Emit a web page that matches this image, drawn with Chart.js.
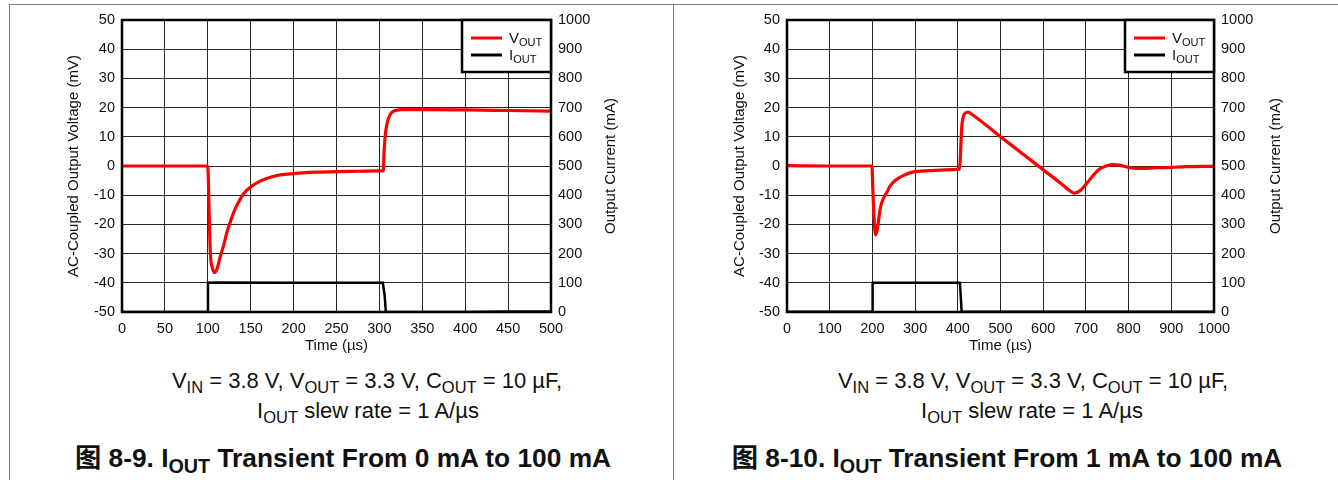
<!DOCTYPE html>
<html>
<head>
<meta charset="utf-8">
<script src="https://cdn.jsdelivr.net/npm/chart.js@4/dist/chart.umd.min.js"></script>
<style>
  html, body { margin: 0; padding: 0; background: #fff; }
  body { width: 1338px; height: 480px; position: relative; overflow: hidden;
         font-family: "Liberation Sans", "Noto Sans CJK SC", Arial, sans-serif; color: #111; }
  .panel { position: absolute; top: 4px; height: 520px; border-top: 1px solid #808080; }
  #pl { left: 9px; width: 663px; border-left: 1px solid #808080; border-right: 1px solid #808080; }
  #pr { left: 673px; width: 700px; }
  canvas { position: absolute; }
  .cap { position: absolute; white-space: nowrap; font-size: 22px; line-height: 26px; transform: translateX(-50%); }
  .ttl { position: absolute; white-space: nowrap; font-size: 26.3px; line-height: 30px; font-weight: bold; transform: translateX(-50%); }
  sub { font-size: 0.75em; vertical-align: -0.28em; line-height: 0; }
</style>
</head>
<body>
<div class="panel" id="pl"></div>
<div class="panel" id="pr"></div>
<canvas id="c1" width="662" height="355" style="left:10px;top:5px"></canvas>
<canvas id="c2" width="664" height="355" style="left:674px;top:5px"></canvas>

<div class="cap" style="left:367px;top:368px">V<sub>IN</sub> = 3.8 V, V<sub>OUT</sub> = 3.3 V, C<sub>OUT</sub> = 10 µF,</div>
<div class="cap" style="left:368px;top:398px">I<sub>OUT</sub> slew rate = 1 A/µs</div>
<div class="ttl" style="left:343px;top:443px">图 8-9. I<sub>OUT</sub> Transient From 0 mA to 100 mA</div>

<div class="cap" style="left:1033px;top:368px">V<sub>IN</sub> = 3.8 V, V<sub>OUT</sub> = 3.3 V, C<sub>OUT</sub> = 10 µF,</div>
<div class="cap" style="left:1032px;top:398px">I<sub>OUT</sub> slew rate = 1 A/µs</div>
<div class="ttl" style="left:1007px;top:443px">图 8-10. I<sub>OUT</sub> Transient From 1 mA to 100 mA</div>

<script>
// ---------- Figure 8-9 (0 mA -> 100 mA), time in µs ----------
const v1Time = [0, 50, 99.5, 100.5, 101.5, 103, 105, 108, 111, 114, 118.6, 122, 126.4, 130, 134, 142, 150, 161, 177, 200, 227, 250, 275, 300, 304.5, 305.5, 307, 310, 313, 316, 320, 325, 350, 400, 450, 500];
const v1Vout = [0, 0, 0, -3, -15, -30, -34.5, -36.5, -35, -31.5, -27, -23, -19, -16, -13.4, -9.4, -7.2, -5.2, -3.5, -2.6, -2.1, -1.9, -1.8, -1.7, -1.7, 5, 11, 15.8, 17.8, 18.7, 19.1, 19.3, 19.3, 19.2, 19.0, 18.8];
const i1Time = [0, 99.8, 100.2, 110, 200, 304, 306, 307.5, 400, 450, 500];
const i1Iout = [0, 0, 100, 101, 100.5, 100, 60, 0, 0, 2, 2];

// ---------- Figure 8-10 (1 mA -> 100 mA), time in µs ----------
const v2Time = [0, 100, 199, 201, 204, 207.5, 211, 215, 218, 226, 233.6, 240, 249, 262, 273, 296, 335, 370, 404, 406, 408, 410, 413, 418, 425, 432, 500, 550, 600, 640, 660, 672, 685, 700, 715, 731, 745, 762, 778, 800, 820, 840, 870, 900, 934, 1000];
const v2Vout = [0.1, 0, 0, -8, -18, -23.6, -22, -18, -14.8, -11, -9.1, -7.2, -5.5, -4.1, -3.2, -2.0, -1.6, -1.3, -1.1, 3, 10, 14.5, 17, 18.2, 18.4, 17.8, 10.0, 4.4, -1.3, -5.8, -8.2, -9.3, -8.6, -6.3, -3.6, -1.1, -0.1, 0.45, 0.3, -0.5, -0.8, -0.8, -0.6, -0.45, -0.2, -0.1];
const i2Time = [0, 199.5, 200.5, 300, 405, 407, 409, 500, 1000];
const i2Iout = [1, 1, 100, 100, 100, 50, 1, 1, 1];

// ---------- axis ticks ----------
const vTicks = { min: -50, max: 50, step: 10 };
const iTicks = { min: 0, max: 1000, step: 100 };
const x1Ticks = { min: 0, max: 500, step: 50 };
const x2Ticks = { min: 0, max: 1000, step: 100 };

const FONT = '"Liberation Sans", Arial, sans-serif';
const TXT = '#111';
const plain = v => String(v);

function pts(xs, ys) { return xs.map((x, k) => ({ x: x, y: ys[k] })); }

const chartDeco = {
  id: 'chartDeco',
  afterDraw(chart, args, opts) {
    const { ctx, chartArea: a } = chart;
    ctx.save();
    // plot frame
    ctx.lineWidth = 2.5;
    ctx.strokeStyle = '#000';
    ctx.strokeRect(a.left, a.top, a.right - a.left, a.bottom - a.top);
    // legend box
    const bw = 89, bh = 52;
    const bx = a.right - bw, by = a.top;
    ctx.fillStyle = '#fff';
    ctx.fillRect(bx, by, bw, bh);
    ctx.strokeRect(bx, by, bw, bh);
    chart.data.datasets.forEach((ds, i) => {
      const y = by + 18 + i * 17;
      ctx.strokeStyle = ds.borderColor;
      ctx.lineWidth = 3;
      ctx.beginPath(); ctx.moveTo(bx + 9, y); ctx.lineTo(bx + 40, y); ctx.stroke();
      ctx.fillStyle = TXT;
      ctx.textAlign = 'left';
      ctx.textBaseline = 'alphabetic';
      ctx.font = '15px ' + FONT;
      ctx.fillText(ds.labelMain, bx + 47, y + 5);
      const w = ctx.measureText(ds.labelMain).width;
      ctx.font = '11px ' + FONT;
      ctx.fillText(ds.labelSub, bx + 47 + w, y + 8);
    });
    // right axis title (reads bottom-to-top)
    ctx.translate(a.right + opts.rightTitleOffset, (a.top + a.bottom) / 2);
    ctx.rotate(-Math.PI / 2);
    ctx.textAlign = 'center';
    ctx.textBaseline = 'middle';
    ctx.font = '15px ' + FONT;
    ctx.fillStyle = TXT;
    ctx.fillText('Output Current (mA)', 0, 0);
    ctx.restore();
  }
};

function fixSize(prop, val) {
  return function (scale) {
    scale[prop] = val;
    scale.paddingTop = 0; scale.paddingBottom = 0;
    scale.paddingLeft = 0; scale.paddingRight = 0;
  };
}

function makeChart(id, vT, vV, iT, iI, xT, leftW, rightW, leftTitlePad, rightTitleOffset) {
  return new Chart(document.getElementById(id), {
    type: 'line',
    data: {
      datasets: [
        { label: 'VOUT', labelMain: 'V', labelSub: 'OUT', data: pts(vT, vV), yAxisID: 'y',
          borderColor: '#ff0000', borderWidth: 3.2, pointRadius: 0, cubicInterpolationMode: 'monotone', fill: false },
        { label: 'IOUT', labelMain: 'I', labelSub: 'OUT', data: pts(iT, iI), yAxisID: 'y2',
          borderColor: '#000000', borderWidth: 2.5, pointRadius: 0, tension: 0, fill: false }
      ]
    },
    options: {
      responsive: false,
      animation: false,
      devicePixelRatio: 1,
      layout: { padding: { top: 15, left: 0, right: 0, bottom: 0 } },
      plugins: { legend: { display: false }, tooltip: { enabled: false }, chartDeco: { rightTitleOffset: rightTitleOffset } },
      scales: {
        x: {
          type: 'linear', min: xT.min, max: xT.max,
          ticks: { stepSize: xT.step, padding: 8, color: TXT, font: { family: FONT, size: 14.5 }, maxRotation: 0, callback: plain },
          grid: { color: 'rgba(0,0,0,0.85)', lineWidth: 1, drawTicks: false },
          border: { display: false },
          title: { display: true, text: 'Time (µs)', color: TXT, font: { family: FONT, size: 15 }, padding: { top: 0, bottom: 5 } },
          afterFit: fixSize('height', 48)
        },
        y: {
          type: 'linear', position: 'left', min: vTicks.min, max: vTicks.max,
          ticks: { stepSize: vTicks.step, padding: 7, color: TXT, font: { family: FONT, size: 14.5 }, callback: plain },
          grid: { color: 'rgba(0,0,0,0.85)', lineWidth: 1, drawTicks: false },
          border: { display: false },
          title: { display: true, text: 'AC-Coupled Output Voltage (mV)', color: TXT, font: { family: FONT, size: 15 }, padding: { top: leftTitlePad, bottom: 0 } },
          afterFit: fixSize('width', leftW)
        },
        y2: {
          type: 'linear', position: 'right', min: iTicks.min, max: iTicks.max,
          ticks: { stepSize: iTicks.step, padding: 7, color: TXT, font: { family: FONT, size: 14.5 }, callback: plain },
          grid: { display: false, drawTicks: false },
          border: { display: false },
          afterFit: fixSize('width', rightW)
        }
      }
    },
    plugins: [chartDeco]
  });
}

makeChart('c1', v1Time, v1Vout, i1Time, i1Iout, x1Ticks, 112, 121, 55, 60);
makeChart('c2', v2Time, v2Vout, i2Time, i2Iout, x2Ticks, 113, 124, 57, 62);
</script>
</body>
</html>
